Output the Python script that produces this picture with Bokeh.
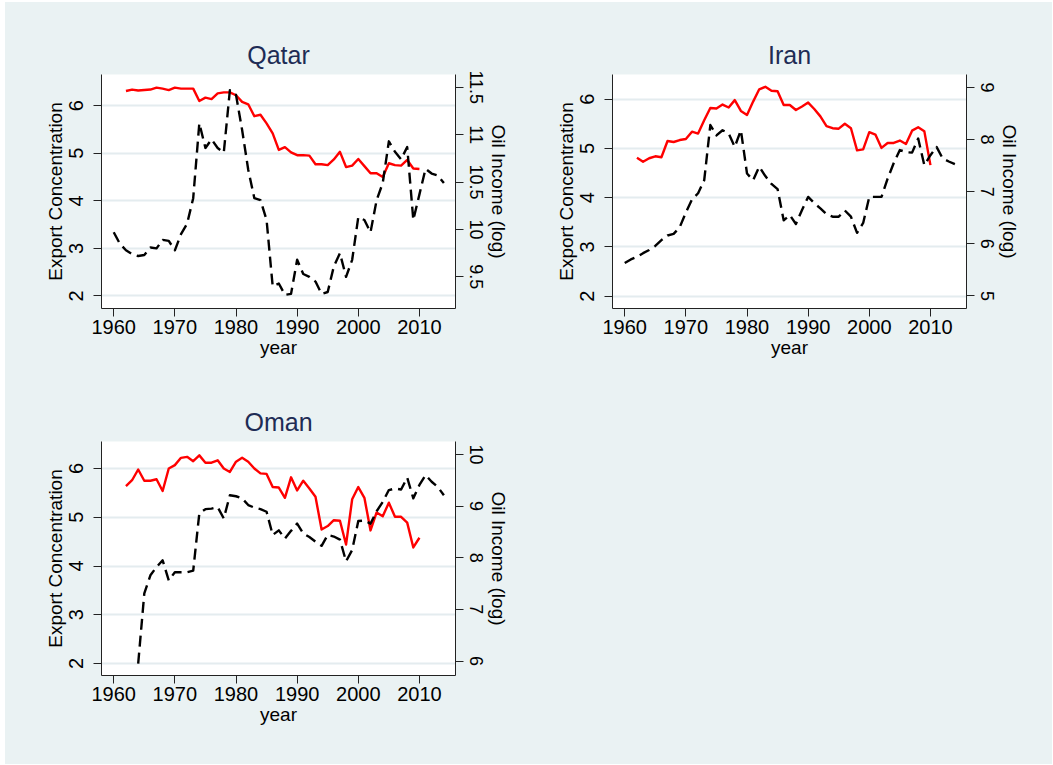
import math
from bokeh.plotting import figure
from bokeh.models import Range1d, LinearAxis, FixedTicker
from bokeh.layouts import row, column
from bokeh.embed import file_html
from bokeh.resources import INLINE

BG = "#EAF2F3"
GRID = "#E4ECEF"
TITLE_COLOR = "#1E2C55"
FONT = "Liberation Sans"

# ---------------- data ----------------
conc_years = list(range(1962, 2011))
oil_years_full = list(range(1960, 2015))
oman_oil_years = list(range(1964, 2015))

qatar_conc = [6.31, 6.34, 6.32, 6.33, 6.34, 6.38, 6.36, 6.33, 6.38, 6.36,
              6.36, 6.36, 6.10, 6.17, 6.14, 6.26, 6.28, 6.28, 6.22, 6.08,
              6.03, 5.78, 5.81, 5.63, 5.42, 5.07, 5.13, 5.02, 4.96, 4.96,
              4.95, 4.77, 4.77, 4.75, 4.87, 5.03, 4.71, 4.74, 4.88, 4.73,
              4.58, 4.58, 4.50, 4.79, 4.75, 4.74, 4.86, 4.68, 4.67]
qatar_oil = [9.97, 9.85, 9.78, 9.74, 9.72, 9.73, 9.81, 9.80, 9.89, 9.88,
             9.78, 9.95, 10.06, 10.33, 11.12, 10.86, 10.95, 10.86, 10.81, 11.47,
             11.42, 11.05, 10.63, 10.33, 10.31, 10.10, 9.40, 9.43, 9.31, 9.32,
             9.68, 9.53, 9.50, 9.45, 9.32, 9.34, 9.61, 9.75, 9.50, 9.68,
             10.13, 10.10, 9.97, 10.31, 10.49, 10.93, 10.82, 10.74, 10.87, 10.10,
             10.37, 10.64, 10.59, 10.57, 10.49]

iran_conc = [4.81, 4.73, 4.80, 4.84, 4.82, 5.15, 5.13, 5.17, 5.19, 5.34,
             5.30, 5.57, 5.82, 5.81, 5.89, 5.83, 5.98, 5.76, 5.68, 5.95,
             6.20, 6.25, 6.17, 6.16, 5.88, 5.88, 5.78, 5.85, 5.93, 5.80,
             5.65, 5.45, 5.41, 5.40, 5.50, 5.41, 4.96, 4.98, 5.33, 5.28,
             5.01, 5.11, 5.11, 5.16, 5.09, 5.36, 5.43, 5.35, 4.66]
iran_oil = [5.63, 5.70, 5.75, 5.82, 5.88, 5.96, 6.07, 6.16, 6.19, 6.32,
            6.60, 6.85, 6.97, 7.22, 8.28, 8.08, 8.18, 8.12, 7.86, 8.18,
            7.35, 7.22, 7.48, 7.30, 7.15, 7.05, 6.45, 6.55, 6.38, 6.65,
            6.90, 6.78, 6.68, 6.57, 6.52, 6.52, 6.64, 6.52, 6.21, 6.40,
            6.90, 6.90, 6.90, 7.25, 7.55, 7.80, 7.76, 7.75, 8.02, 7.51,
            7.70, 7.86, 7.64, 7.58, 7.53]

oman_conc = [5.64, 5.76, 5.98, 5.75, 5.75, 5.78, 5.54, 6.00, 6.07, 6.22,
             6.24, 6.15, 6.27, 6.12, 6.12, 6.17, 6.00, 5.93, 6.14, 6.22,
             6.14, 6.00, 5.90, 5.89, 5.62, 5.61, 5.40, 5.82, 5.55, 5.75,
             5.59, 5.42, 4.75, 4.82, 4.94, 4.93, 4.44, 5.37, 5.62, 5.40,
             4.73, 5.10, 5.02, 5.30, 5.01, 5.01, 4.89, 4.38, 4.58]
oman_oil = [5.95, 7.31, 7.66, 7.82, 7.95, 7.56, 7.72, 7.72, 7.72, 7.75,
            8.86, 8.94, 8.95, 8.98, 8.76, 9.21, 9.19, 9.15, 9.02, 8.97,
            8.94, 8.89, 8.44, 8.53, 8.37, 8.52, 8.66, 8.47, 8.40, 8.31,
            8.23, 8.44, 8.41, 8.35, 7.93, 8.15, 8.71, 8.72, 8.66, 8.90,
            9.08, 9.31, 9.34, 9.32, 9.55, 9.15, 9.41, 9.60, 9.47, 9.37,
            9.21]

x_ticks = [1960, 1970, 1980, 1990, 2000, 2010]
left_ticks = [2, 3, 4, 5, 6]
qatar_right_ticks = [9.5, 10, 10.5, 11, 11.5]
qatar_right_labels = ["9.5", "10", "10.5", "11", "11.5"]
iran_right_ticks = [5, 6, 7, 8, 9]
iran_right_labels = ["5", "6", "7", "8", "9"]
oman_right_ticks = [6, 7, 8, 9, 10]
oman_right_labels = ["6", "7", "8", "9", "10"]

x_range = (1958.0, 2015.9)
qatar_left_range = (1.735, 6.657)
qatar_right_range = (9.166, 11.635)
iran_left_range = (1.75, 6.50)
iran_right_range = (4.758, 9.25)
oman_left_range = (1.753, 6.555)
oman_right_range = (5.72, 10.25)

FRAME_W, FRAME_H = 354, 234


def style_axis(ax, tick_size, lab_standoff, ax_standoff):
    ax.axis_line_color = "#222222"
    ax.axis_line_width = 1
    ax.major_tick_line_color = "#222222"
    ax.major_tick_out = 8
    ax.major_tick_in = 0
    ax.minor_tick_out = 0
    ax.minor_tick_in = 0
    ax.major_label_text_font = FONT
    ax.major_label_text_font_size = tick_size
    ax.major_label_text_color = "#000000"
    ax.axis_label_text_font = FONT
    ax.axis_label_text_font_size = "19px"
    ax.axis_label_text_font_style = "normal"
    ax.axis_label_text_color = "#000000"
    ax.major_label_standoff = lab_standoff
    ax.axis_label_standoff = ax_standoff


def make_panel(title, cy, conc, oy, oil, lrange, rrange, rticks, rlabels,
               width, height, left, top, bottom):
    p = figure(width=width, height=height,
               x_range=Range1d(*x_range), y_range=Range1d(*lrange),
               output_backend="svg", toolbar_location=None,
               min_border_left=left, min_border_right=width - left - FRAME_W,
               min_border_top=top, min_border_bottom=bottom)
    p.background_fill_color = "white"
    p.border_fill_color = BG
    p.outline_line_color = None
    p.title.text = title
    p.title.align = "center"
    p.title.text_font = FONT
    p.title.text_font_size = "25px"
    p.title.text_font_style = "normal"
    p.title.text_color = TITLE_COLOR
    p.title.standoff = 12

    p.xgrid.visible = False
    p.ygrid.grid_line_color = GRID
    p.ygrid.grid_line_width = 2

    xa = p.xaxis[0]
    xa.ticker = FixedTicker(ticks=x_ticks)
    xa.axis_label = "year"
    style_axis(xa, "20px", 3, 0)

    ya = p.yaxis[0]
    ya.ticker = FixedTicker(ticks=left_ticks)
    ya.axis_label = "Export Concentration"
    style_axis(ya, "20px", 10, 1)
    ya.major_label_orientation = "vertical"

    p.extra_y_ranges = {"oil": Range1d(*rrange)}
    ra = LinearAxis(y_range_name="oil", axis_label="Oil Income (log)")
    ra.ticker = FixedTicker(ticks=rticks)
    ra.major_label_overrides = {t: lab for t, lab in zip(rticks, rlabels)}
    style_axis(ra, "18px", 6, 2)
    ra.major_label_orientation = "vertical"
    p.add_layout(ra, "right")

    p.line(cy, conc, line_color="#FF0000", line_width=2.4, line_join="round")
    p.line(oy, oil, line_color="#000000", line_width=2.4, line_dash="11 6",
           line_join="round", y_range_name="oil")
    return p


W1, W2 = 516, 531
H1, H2 = 375, 387

p1 = make_panel("Qatar", conc_years, qatar_conc, oil_years_full, qatar_oil,
                qatar_left_range, qatar_right_range, qatar_right_ticks,
                qatar_right_labels, W1, H1, 96, 72, H1 - 72 - FRAME_H)
p2 = make_panel("Iran", conc_years, iran_conc, oil_years_full, iran_oil,
                iran_left_range, iran_right_range, iran_right_ticks,
                iran_right_labels, W2, H1, 91, 72, H1 - 72 - FRAME_H)
p3 = make_panel("Oman", conc_years, oman_conc, oman_oil_years, oman_oil,
                oman_left_range, oman_right_range, oman_right_ticks,
                oman_right_labels, W1, H2, 96, 64, H2 - 64 - FRAME_H)

p4 = figure(width=W2, height=H2, x_axis_location=None, y_axis_location=None,
            output_backend="svg", toolbar_location=None,
            x_range=Range1d(0, 1), y_range=Range1d(0, 1), min_border=0)
p4.background_fill_color = BG
p4.border_fill_color = BG
p4.outline_line_color = None
p4.grid.visible = False

bgstyle = {"background-color": BG}
layout = column(row(p1, p2, styles=bgstyle), row(p3, p4, styles=bgstyle),
                styles=bgstyle, margin=(2, 0, 0, 5))

open("out.html", "w").write(file_html(layout, INLINE))
